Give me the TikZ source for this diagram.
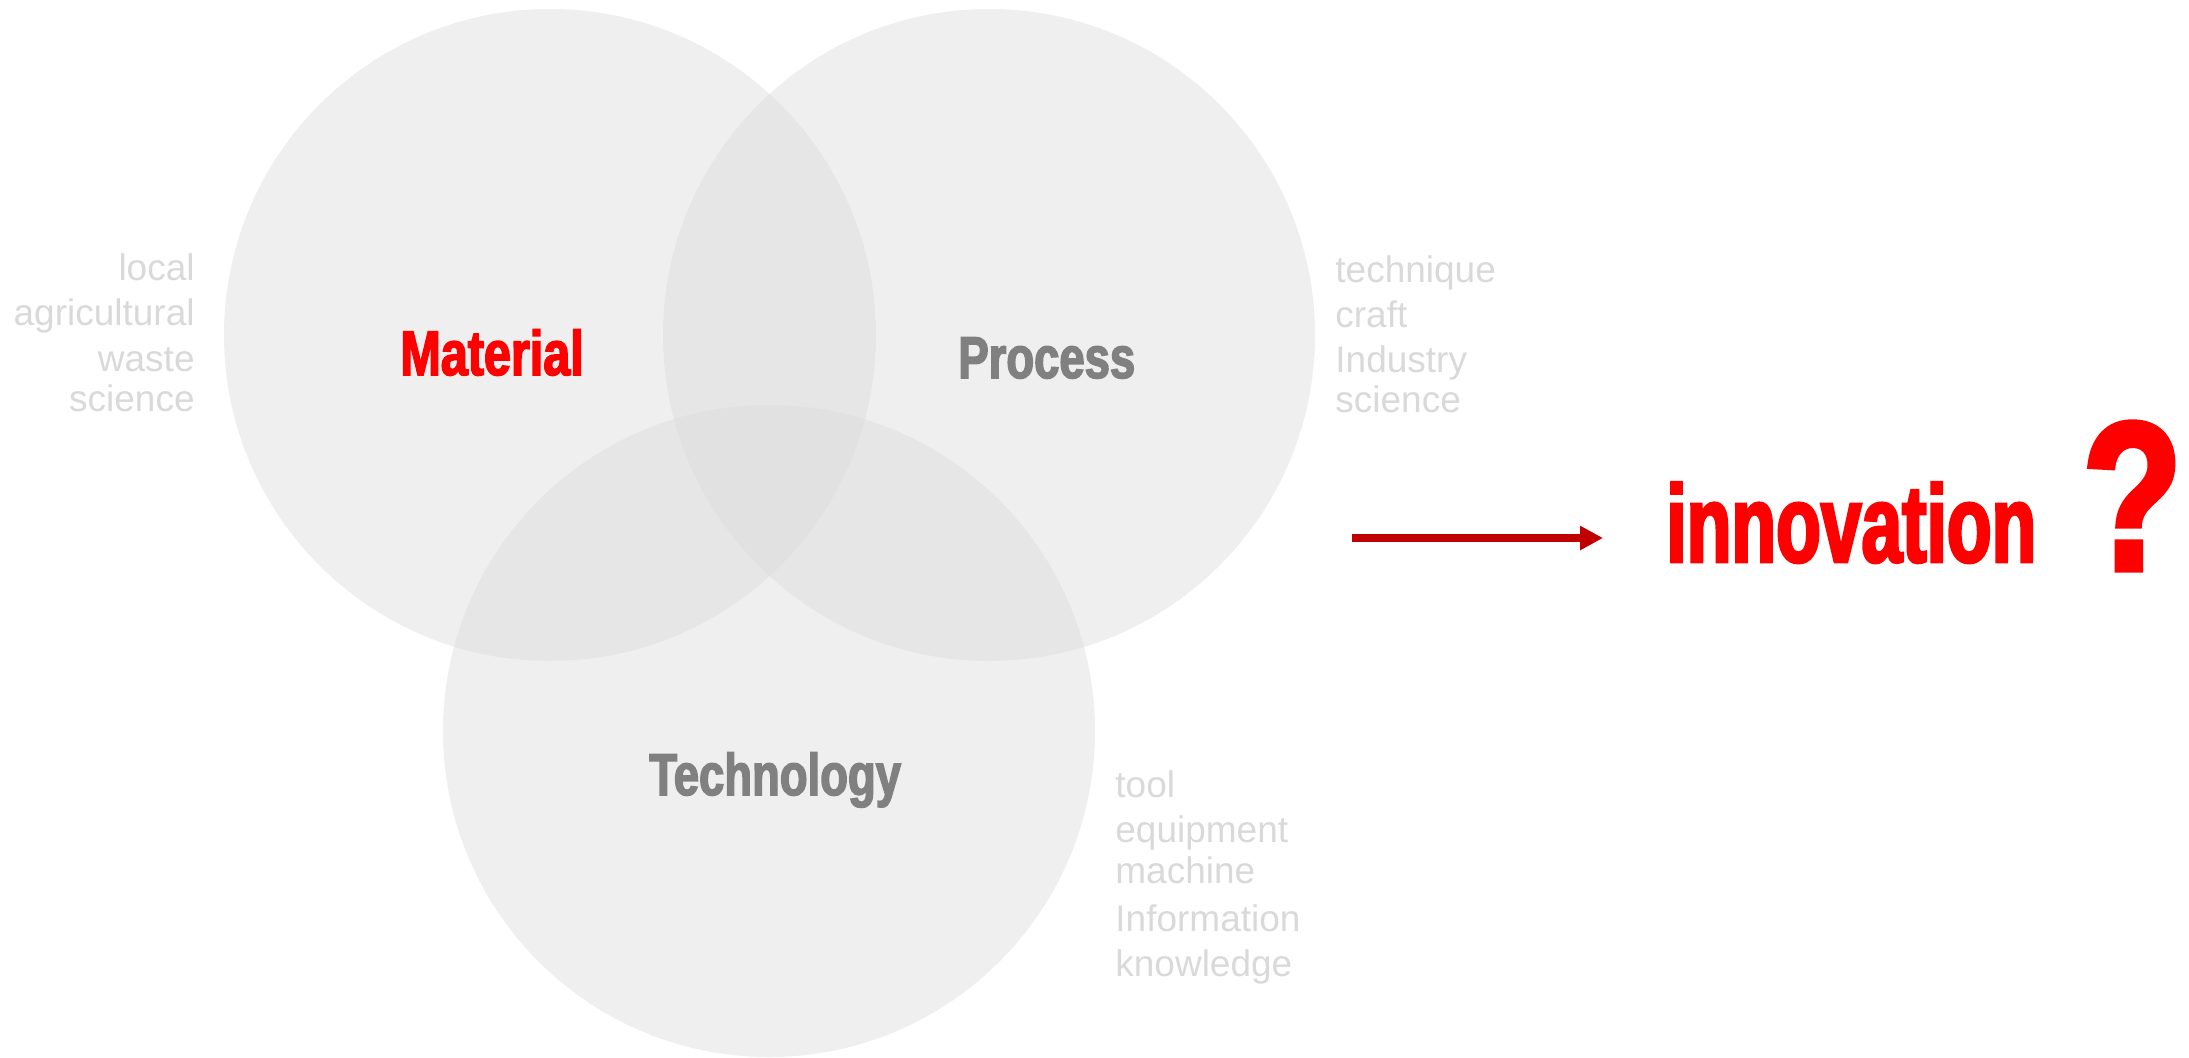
\documentclass[tikz,border=0pt]{standalone}
\usepackage{fontspec}
\setmainfont{Liberation Sans}
\newfontfamily\labelfont[FakeStretch=0.77, FakeBold=2.5]{Liberation Sans Bold}
\newfontfamily\bigfont[FakeStretch=0.665, FakeBold=2.5]{Liberation Sans Bold}
\usepackage{tikz}
\usetikzlibrary{arrows.meta, positioning}
\definecolor{vennfill}{HTML}{DADADA}
\definecolor{notegray}{HTML}{D9D9D9}
\definecolor{labelgray}{HTML}{808080}
\definecolor{hotred}{HTML}{FF0000}
\definecolor{arrowred}{HTML}{C00000}
\tikzset{
  venn_circle/.style={circle, fill=vennfill, fill opacity=0.44, minimum size=326pt, inner sep=0pt},
  venn_label/.style={anchor=base west, inner sep=0pt, font=\labelfont\fontsize{30.5}{34}\selectfont},
  note_right/.style={anchor=base east, inner sep=0pt, text=notegray, font=\fontsize{18.5}{22}\selectfont},
  note_left/.style={anchor=base west, inner sep=0pt, text=notegray, font=\fontsize{18.5}{22}\selectfont},
  lead_arrow/.style={color=arrowred, line width=4pt, -{Triangle[length=11.5pt, width=11.5pt]}}
}
\begin{document}
\begin{tikzpicture}[x=0.5pt, y=-0.5pt]
\useasboundingbox (0,0) rectangle (2189,1057);
% three overlapping circles
\node[venn_circle] (material_circle) at (550,335) {};
\node[venn_circle] (process_circle) at (989,335) {};
\node[venn_circle] (technology_circle) at (769,731) {};
% circle titles
\node[venn_label, text=hotred, font=\labelfont\fontsize{31.5}{34}\selectfont] (material_label) at (400,375) {Material};
\node[venn_label, text=labelgray, font=\labelfont\fontsize{29.5}{34}\selectfont] (process_label) at (958,378) {Process};
\node[venn_label, text=labelgray, font=\labelfont\fontsize{29.5}{32}\selectfont] (technology_label) at (649,795) {Technology};
% material notes
\node[note_right] (material_note_0) at (195,280) {local};
\node[note_right] (material_note_1) at (195,325) {agricultural};
\node[note_right] (material_note_2) at (195,371) {waste};
\node[note_right] (material_note_3) at (195,411) {science};
% process notes
\node[note_left] (process_note_0) at (1335,282) {technique};
\node[note_left] (process_note_1) at (1335,327) {craft};
\node[note_left] (process_note_2) at (1335,372) {Industry};
\node[note_left] (process_note_3) at (1335,412) {science};
% technology notes
\node[note_left] (technology_note_0) at (1115,797) {tool};
\node[note_left] (technology_note_1) at (1115,842) {equipment};
\node[note_left] (technology_note_2) at (1115,883) {machine};
\node[note_left] (technology_note_3) at (1115,931) {Information};
\node[note_left] (technology_note_4) at (1115,976) {knowledge};
% result
\coordinate (arrow_start) at (1352,538);
\coordinate (arrow_end) at (1603,538);
\draw[lead_arrow] (arrow_start) -- (arrow_end);
\node[anchor=base west, inner sep=0pt, text=hotred, font=\bigfont\fontsize{55}{60}\selectfont] (innovation_label) at (1666,562) {innovation};
\node[anchor=base west, inner sep=0pt, text=hotred, font=\labelfont\fontsize{106}{110}\selectfont] (question_mark) at (2082,570) {?};
\end{tikzpicture}
\end{document}
